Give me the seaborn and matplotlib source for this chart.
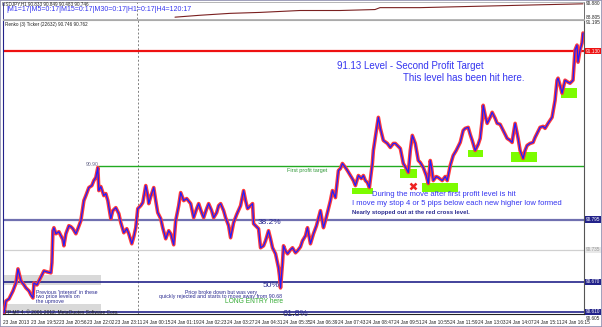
import matplotlib
matplotlib.use("Agg")
import matplotlib.pyplot as plt
import seaborn as sns
import pandas as pd
from matplotlib.patches import Rectangle

# renko bars (bar number) and close price
bar = [3, 5, 8, 12, 15, 17, 19, 20, 23, 25, 28, 30, 32, 33, 36, 38, 40, 42, 43, 46,
       50, 51, 52, 53, 55, 58, 60, 62, 63, 65, 68, 70, 72, 75, 77, 80, 83, 85, 88, 91,
       93, 95, 97, 98, 100, 103, 105, 107, 110, 112, 115, 118, 120, 123, 126, 128, 131, 133, 135, 137,
       140, 142, 145, 147, 148, 150, 153, 155, 157, 160, 162, 165, 168, 170, 173, 175, 178, 180, 183, 186,
       190, 193, 196, 198, 201, 203, 206, 208, 211, 213, 216, 218, 220, 223, 225, 228, 230, 233, 236, 240,
       243, 245, 247, 250, 252, 253, 256, 258, 260, 263, 265, 268, 270, 272, 275, 278, 279, 280, 282, 283,
       285, 287, 290, 292, 295, 297, 300, 302, 305, 307, 310, 313, 316, 320, 323, 325, 328, 330, 332, 335,
       338, 340, 342, 345, 347, 350, 353, 355, 358, 361, 363, 365, 367, 369, 372, 373, 376, 378, 380, 383,
       387, 390, 393, 395, 398, 400, 403, 406, 408, 410, 412, 415, 418, 420, 423, 426, 428, 430, 431, 433,
       436, 438, 442, 445, 447, 450, 453, 456, 460, 463, 465, 468, 470, 472, 475, 478, 480, 482, 483, 485,
       487, 490, 492, 495, 497, 500, 502, 505, 507, 510, 512, 513, 515, 518, 520, 523, 525, 527, 530, 533,
       535, 537, 540, 543, 545, 548, 550, 552, 555, 557, 558, 560, 562, 565, 568, 570, 573, 575, 577, 578,
       580, 582, 583]
price = [90.608, 90.632, 90.636, 90.652, 90.668, 90.696, 90.680, 90.672, 90.664, 90.658,
         90.652, 90.644, 90.638, 90.668, 90.664, 90.672, 90.680, 90.688, 90.692, 90.690,
         90.688, 90.708, 90.772, 90.778, 90.766, 90.770, 90.762, 90.754, 90.742, 90.766,
         90.782, 90.780, 90.776, 90.766, 90.776, 90.792, 90.832, 90.842, 90.858, 90.862,
         90.872, 90.878, 90.898, 90.852, 90.860, 90.842, 90.846, 90.832, 90.796, 90.812,
         90.818, 90.806, 90.788, 90.768, 90.776, 90.766, 90.746, 90.760, 90.778, 90.816,
         90.822, 90.828, 90.862, 90.842, 90.826, 90.840, 90.858, 90.832, 90.808, 90.796,
         90.778, 90.756, 90.772, 90.766, 90.744, 90.792, 90.822, 90.848, 90.832, 90.836,
         90.826, 90.798, 90.816, 90.826, 90.808, 90.798, 90.816, 90.826, 90.812, 90.798,
         90.808, 90.822, 90.826, 90.812, 90.798, 90.782, 90.758, 90.788, 90.804, 90.822,
         90.852, 90.832, 90.816, 90.822, 90.826, 90.786, 90.780, 90.776, 90.738, 90.742,
         90.752, 90.772, 90.756, 90.738, 90.726, 90.698, 90.682, 90.658, 90.708, 90.742,
         90.732, 90.726, 90.734, 90.738, 90.728, 90.732, 90.740, 90.752, 90.762, 90.778,
         90.746, 90.766, 90.782, 90.812, 90.778, 90.792, 90.816, 90.832, 90.852, 90.838,
         90.892, 90.896, 90.906, 90.898, 90.892, 90.882, 90.872, 90.862, 90.882, 90.876,
         90.882, 90.872, 90.868, 90.858, 90.906, 90.932, 90.972, 90.998, 90.976, 90.952,
         90.946, 90.938, 90.946, 90.946, 90.940, 90.936, 90.906, 90.896, 90.888, 90.932,
         90.962, 90.946, 90.912, 90.908, 90.898, 90.882, 90.866, 90.912, 90.902, 90.872,
         90.880, 90.878, 90.872, 90.880, 90.872, 90.902, 90.922, 90.932, 90.948, 90.972,
         90.976, 90.978, 90.964, 90.952, 90.932, 90.944, 90.956, 90.992, 91.022, 91.002,
         90.986, 90.998, 91.008, 90.996, 90.986, 90.984, 90.976, 90.964, 90.956, 90.952,
         90.948, 90.962, 90.986, 90.956, 90.932, 90.916, 90.932, 90.942, 90.946, 90.948,
         90.958, 90.966, 90.978, 90.980, 90.976, 90.986, 90.992, 90.998, 91.032, 91.072,
         91.076, 91.062, 91.046, 91.072, 91.068, 91.066, 91.072, 91.132, 91.142, 91.108,
         91.132, 91.146, 91.166]

# H1 line in the small top window
top_bar = [175, 200, 230, 260, 300, 340, 375, 380, 420, 460, 500, 540, 583]
top_price = [88.93, 89.19, 89.45, 89.58, 89.84, 89.84, 89.97, 90.23, 90.23, 90.36, 90.49, 90.62, 90.75]

# bottom time scale
tick_bars = [2, 30, 58, 86, 114, 142, 170, 198, 226, 254, 282, 310, 338, 366, 394, 422,
             450, 478, 506, 534, 562]
tick_labels = ["23 Jan 2013", "23 Jan 19:52", "23 Jan 20:56", "23 Jan 22:02", "23 Jan 23:11",
               "24 Jan 00:15", "24 Jan 01:19", "24 Jan 02:23", "24 Jan 03:27", "24 Jan 04:31",
               "24 Jan 05:35", "24 Jan 06:39", "24 Jan 07:43", "24 Jan 08:47", "24 Jan 09:51",
               "24 Jan 10:55", "24 Jan 11:59", "24 Jan 13:03", "24 Jan 14:07", "24 Jan 15:11",
               "24 Jan 16:15"]

# horizontal levels: price, colour, width, start bar, label, label colours
levels = [91.13, 90.90, 90.794, 90.734, 90.670, 90.610]
level_colors = ["#ee1111", "#22aa22", "#7070b0", "#d0d0d0", "#22228a", "#22228a"]
level_widths = [1.6, 1.0, 1.6, 0.9, 1.2, 1.2]
level_start = [3, 97, 3, 3, 3, 3]
level_labels = ["91.130", None, "90.795", "90.735", "90.670", "90.610"]
label_face = ["#ee1111", None, "#22228a", "#e8e8e8", "#22228a", "#22228a"]
label_text = ["white", None, "white", "#999999", "white", "white"]

# higher-low boxes (bar from, bar to, price low, price high)
box_x0 = [352, 400, 422, 468, 511, 561]
box_x1 = [373, 417, 458, 483, 537, 577]
box_lo = [90.846, 90.878, 90.850, 90.918, 90.908, 91.036]
box_hi = [90.858, 90.896, 90.868, 90.932, 90.928, 91.056]

# earlier interest zones at the left
zone_lo = [90.664, 90.612]
zone_hi = [90.684, 90.626]

cross_bar, cross_price = 413, 90.862
day_sep = 137

sns.set_style("white")
plt.rcParams['font.family'] = ['Liberation Sans', 'DejaVu Sans']

W, H = 602, 327
fig = plt.figure(figsize=(W / 100, H / 100), dpi=100)
fig.patch.set_facecolor("white")

ax = fig.add_axes([3 / W, 13 / H, 581 / W, 294 / H])
top = fig.add_axes([3 / W, 308 / H, 581 / W, 17 / H])

# main price window
for lo, hi in zip(zone_lo, zone_hi):
    ax.add_patch(Rectangle((0, lo), 100, hi - lo, facecolor="#d9d9d9", edgecolor="none", zorder=0))
for x0, x1, lo, hi in zip(box_x0, box_x1, box_lo, box_hi):
    ax.add_patch(Rectangle((x0, lo), x1 - x0, hi - lo, facecolor="#7cfc00", edgecolor="none", zorder=1))

for p, c, w, s in zip(levels, level_colors, level_widths, level_start):
    ax.hlines(p, s, 584, color=c, lw=w, zorder=2)
ax.axvline(day_sep, color="#808080", lw=0.7, ls=(0, (2, 2)), zorder=1)

df = pd.DataFrame({"bar": bar, "price": price})
sns.lineplot(data=df, x="bar", y="price", ax=ax, color="#ff3b3b", lw=2.6, zorder=3)
sns.lineplot(data=df, x="bar", y="price", ax=ax, color="#1f1fff", lw=0.9, zorder=4)
ax.plot(cross_bar, cross_price, marker="x", color="#ee2222", ms=5, mew=1.8, zorder=5)

ax.set_xlim(3, 584)
ax.set_ylim(90.606, 91.192)
ax.set_xlabel("")
ax.set_ylabel("")
ax.set_yticks([])
ax.set_xticks(tick_bars)
ax.set_xticklabels(tick_labels, fontsize=3.4, ha="left", color="#222222")
ax.tick_params(axis="x", length=2, width=0.5, pad=2, colors="#222222", labelcolor="#222222")
for s in ax.spines.values():
    s.set_linewidth(0.8)
ax.spines["left"].set_color("#22228a")
ax.spines["bottom"].set_color("#222222")
ax.spines["right"].set_color("#555555")
ax.spines["top"].set_color("#aaaaaa")

# right-hand price labels
for p, lab, fc, tc in zip(levels, level_labels, label_face, label_text):
    if lab is None:
        continue
    ax.text(1.003, p, lab, transform=ax.get_yaxis_transform(), fontsize=3.4, color=tc,
            va="center", ha="left", clip_on=False,
            bbox=dict(boxstyle="square,pad=0.15", fc=fc, ec="none"))
ax.text(1.003, 91.187, "91.195", transform=ax.get_yaxis_transform(), fontsize=3.4,
        color="#222222", va="center", ha="left", clip_on=False)
ax.text(1.003, 90.597, "90.605", transform=ax.get_yaxis_transform(), fontsize=3.4,
        color="#222222", va="center", ha="left", clip_on=False)

# annotations
blue = "#3535f0"
navy = "#2a2a90"
ax.text(337, 91.100, "91.13 Level - Second Profit Target", fontsize=7, color=blue, va="center")
ax.text(403, 91.076, "This level has been hit here.", fontsize=7, color=blue, va="center")
ax.text(372, 90.844, "During the move after first profit level is hit", fontsize=5.5,
        color=blue, va="center")
ax.text(352, 90.826, "I move my stop 4 or 5 pips below each new higher low formed", fontsize=5.5,
        color=blue, va="center")
ax.text(352, 90.808, "Nearly stopped out at the red cross level.", fontsize=4.3,
        color=navy, va="center", fontweight="bold")
ax.text(286, 90.892, "First profit target", fontsize=4, color="#33993a", va="center")
ax.text(85, 90.903, "90.90", fontsize=3.6, color="#666688", va="center")
ax.text(257, 90.788, "38.2%", fontsize=6, color=navy, va="center")
ax.text(262, 90.662, "50%", fontsize=6, color=navy, va="center")
ax.text(282, 90.607, "61.8%", fontsize=6.5, color=navy, va="center")
ax.text(282, 90.645, "Price broke down but was very\nquickly rejected and starts to move away from 90.68",
        fontsize=3.8, color=navy, va="center", ha="right", multialignment="center", linespacing=0.95)
ax.text(282, 90.630, "LONG ENTRY here", fontsize=4.8, color="#33aa33", va="center", ha="right")
ax.text(35, 90.640, "Previous 'interest' in these\ntwo price levels on\nthe upmove",
        fontsize=3.8, color=navy, va="center", ha="left", linespacing=0.95)
ax.text(4, 90.609, "FP MT 4, \u00a9 2001-2012, MetaQuotes Software Corp.", fontsize=3.5,
        color="#222222", va="center")
ax.text(4, 91.184, "Renko (3) Ticker (22632) 90.746 90.762", fontsize=3.3, color="#222222", va="center")

# small H1 window on top
tdf = pd.DataFrame({"bar": top_bar, "price": top_price})
sns.lineplot(data=tdf, x="bar", y="price", ax=top, color="#7a2020", lw=0.8)
top.axvline(day_sep, color="#808080", lw=0.7, ls=(0, (2, 2)))
top.set_xlim(3, 584)
top.set_ylim(88.68, 91.0)
top.set_xticks([])
top.set_yticks([])
top.set_xlabel("")
top.set_ylabel("")
for s in top.spines.values():
    s.set_linewidth(0.6)
    s.set_color("#aaaaaa")
top.spines["left"].set_color("#22228a")
top.spines["right"].set_color("#555555")
top.text(2, 90.72, "USDJPY,H1 90.833 90.849 90.483 90.746", fontsize=3.3, color="#222222", va="center")
top.text(6, 89.92, "|M1=17|M5=0:17|M15=0:17|M30=0:17|H1=0:17|H4=120:17", fontsize=5,
         color=blue, va="center")
top.text(1.003, 90.85, "90.880", transform=top.get_yaxis_transform(), fontsize=3.4,
         color="#222222", va="center", clip_on=False)
top.text(1.003, 88.85, "88.805", transform=top.get_yaxis_transform(), fontsize=3.4,
         color="#222222", va="center", clip_on=False)

fig.add_artist(Rectangle((0, 0), 1, 1, transform=fig.transFigure, fill=False,
                         edgecolor="#9090b0", lw=1.2))

fig.savefig("out.png", dpi=100)
